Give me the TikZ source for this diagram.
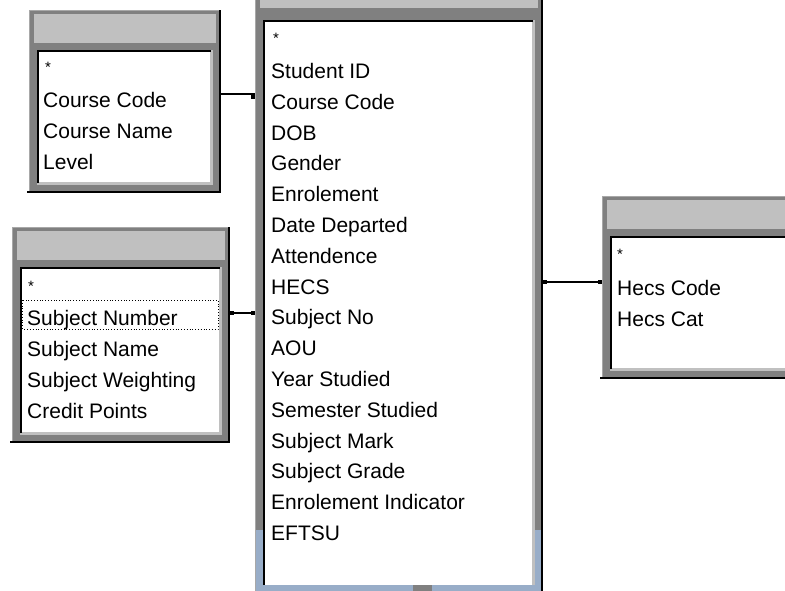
\documentclass[tikz,border=0pt]{standalone}
\usepackage{fontspec}
\setmainfont{Liberation Sans}
\definecolor{frameDark}{HTML}{808080}
\definecolor{frameLight}{HTML}{C0C0C0}
\definecolor{frameEdge}{HTML}{A8A8A8}
\definecolor{scrollBlue}{HTML}{98ADC8}

\tikzset{
  outerframe/.style={fill=frameDark, inner sep=0, outer sep=0, anchor=north west},
  titlebar/.style={fill=frameLight},
  fieldarea/.style={fill=white},
  inset/.style={line width=1.6pt, black},
  shadowline/.style={line width=2pt, black},
  field/.style={anchor=base west, inner sep=0, font=\fontsize{21}{21}\selectfont},
  keymark/.style={anchor=base, inner sep=0, font=\fontsize{15}{15}\selectfont},
  link/.style={line width=1.3pt, black},
  linkend/.style={fill=black, minimum size=4pt, inner sep=0, outer sep=0}
}

% #1 name, (#2,#3) top-left, (#4,#5) bottom-right, in pixel units (y downward)
\newcommand{\dbtable}[5]{%
  \node[outerframe, minimum width={(#4-(#2))*1pt}, minimum height={(#5-(#3))*1pt}] (#1) at (#2,#3) {};
  \fill[frameEdge] (#2,#3) rectangle ({#2+1},#5);
  \fill[frameEdge] (#2,#3) rectangle (#4,{#3+1});
  \fill[titlebar] ({#2+5},{#3+4}) rectangle ({#4-5},{#3+33});
  \fill[frameLight] ({#2+8},{#3+40}) rectangle ({#4-8},{#5-8});
  \fill[fieldarea] ({#2+10},{#3+41}) rectangle ({#4-11},{#5-11});
  \draw[inset] ({#2+8.8},{#5-10}) |- ({#4-10},{#3+40.8});
  \draw[shadowline] ({#4-1},#3) -- ({#4-1},{#5-1}) -- ({#2-2},{#5-1});
}

\begin{document}
\begin{tikzpicture}[x=1pt,y=-1pt]
  \useasboundingbox[fill=white] (0,0) rectangle (785,590);

  % tables
  \dbtable{course}{29}{10}{221}{193}
  \dbtable{subject}{12}{227}{230}{443}
  \dbtable{hecs}{602}{196}{812}{379}
  \dbtable{main}{255}{-20}{543}{596}

  % the main list shows only the foot of its title bar
  \fill[frameDark] (260,8) rectangle (538,19.5);

  % lower part of the main list frame
  \fill[scrollBlue] (256,530) rectangle (263,596);
  \fill[scrollBlue] (535,530) rectangle (541,596);
  \fill[scrollBlue] (263,585) rectangle (541,596);
  \fill[frameDark] (413,585) rectangle (432,596);

  % key markers
  \node[keymark] (courseKey) at (48,72.5) {*};
  \node[keymark] (subjectKey) at (31,291.5) {*};
  \node[keymark] (hecsKey) at (620,259.5) {*};
  \node[keymark] (mainKey) at (276,43.5) {*};

  % fields
  \foreach [count=\i] \t in {Course Code, Course Name, Level}
    \node[field] (coursef\i) at (43,{107.5+(\i-1)*31}) {\t};
  \foreach [count=\i] \t in {Subject Number, Subject Name, Subject Weighting, Credit Points}
    \node[field] (subjectf\i) at (27,{325.5+(\i-1)*31}) {\t};
  \foreach [count=\i] \t in {Hecs Code, Hecs Cat}
    \node[field] (hecsf\i) at (617,{295.5+(\i-1)*31}) {\t};
  \foreach [count=\i] \t in {Student ID, Course Code, DOB, Gender, Enrolement,
      Date Departed, Attendence, HECS, Subject No, AOU, Year Studied,
      Semester Studied, Subject Mark, Subject Grade, Enrolement Indicator, EFTSU}
    \node[field] (mainf\i) at (271,{78.5+(\i-1)*30.8}) {\t};

  % focus rectangle on the selected field
  \draw[dotted, line width=0.8pt] (22.5,300) rectangle (218,329);

  % relationship lines
  \coordinate (yCourse) at (0,94);
  \coordinate (ySubject) at (0,313);
  \coordinate (yHecs) at (0,282);

  \draw[line width=2pt] (course.east |- yCourse) -- (main.west |- yCourse);
  \node[linkend] (courseEnd) at (252.5,96.5) {};

  \draw[link] (subject.east |- ySubject) -- (main.west |- ySubject);
  \node[linkend] (subjectEndA) at (232,313) {};
  \node[linkend] (subjectEndB) at (252.5,313) {};

  \draw[link] (main.east |- yHecs) -- (hecs.west |- yHecs);
  \node[linkend] (hecsEndA) at (545,282) {};
  \node[linkend] (hecsEndB) at (600,282) {};
\end{tikzpicture}
\end{document}
